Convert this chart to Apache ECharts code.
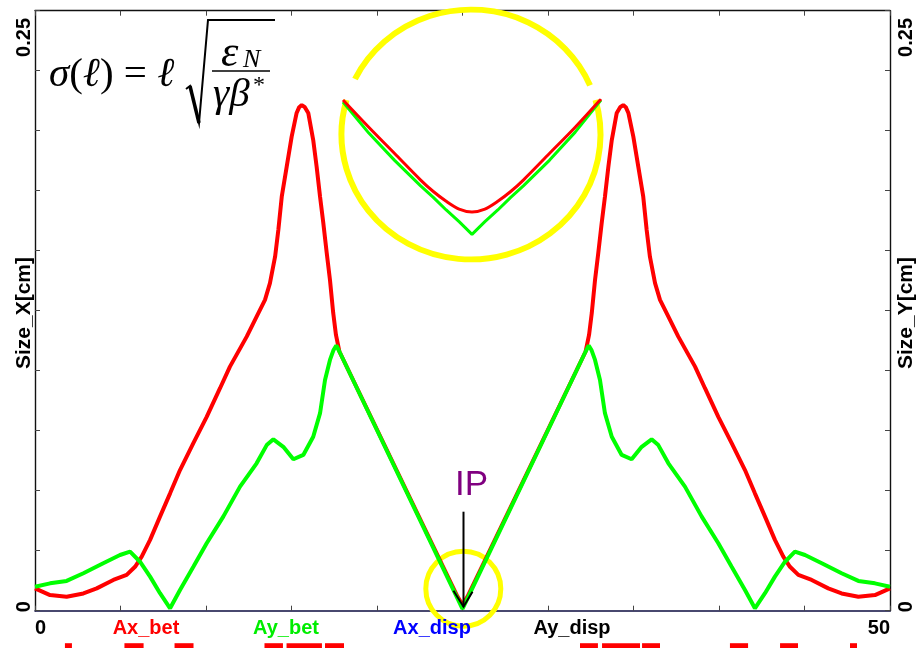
<!DOCTYPE html>
<html>
<head>
<meta charset="utf-8">
<script src="https://cdn.jsdelivr.net/npm/echarts@6/dist/echarts.min.js"></script>
<style>
  html, body { margin: 0; padding: 0; background: #ffffff; }
  #chart { width: 924px; height: 648px; }
</style>
</head>
<body>
<div id="chart"></div>
<script>
// Beam size along the lattice (s, cm)
const sigmaXPos = [0, 0.88, 1.85, 2.83, 3.61, 4.58, 5.36, 5.85, 6.24, 6.73, 7.31, 7.90, 8.48, 9.26, 10.04, 10.82, 11.40, 12.38, 12.96, 13.45, 13.74, 14.04, 14.23, 14.43, 14.72, 15.01, 15.30, 15.45, 15.60, 15.78, 15.98, 16.27, 16.47, 16.67, 16.86, 17.06, 17.25, 17.44, 17.60, 17.80, 24.70, 25.00, 25.30, 32.20, 32.40, 32.56, 32.75, 32.94, 33.14, 33.33, 33.53, 33.73, 34.02, 34.22, 34.40, 34.55, 34.70, 34.99, 35.28, 35.57, 35.77, 35.96, 36.26, 36.55, 37.04, 37.62, 38.60, 39.18, 39.96, 40.74, 41.52, 42.10, 42.69, 43.27, 43.76, 44.15, 44.64, 45.42, 46.39, 47.17, 48.15, 49.12, 50];
const sigmaX = [0.0093, 0.0065, 0.0058, 0.0072, 0.0093, 0.0128, 0.0149, 0.0183, 0.0225, 0.0295, 0.0392, 0.0489, 0.0586, 0.0698, 0.0808, 0.0927, 0.1017, 0.1142, 0.1225, 0.1295, 0.1365, 0.1475, 0.1586, 0.1725, 0.1850, 0.1975, 0.2074, 0.2098, 0.2107, 0.2098, 0.2074, 0.1961, 0.1850, 0.1725, 0.1615, 0.1490, 0.1378, 0.1240, 0.1149, 0.1080, 0.0060, 0.0025, 0.0060, 0.1080, 0.1149, 0.1240, 0.1378, 0.1490, 0.1615, 0.1725, 0.1850, 0.1961, 0.2074, 0.2098, 0.2107, 0.2098, 0.2074, 0.1975, 0.1850, 0.1725, 0.1586, 0.1475, 0.1365, 0.1295, 0.1225, 0.1142, 0.1017, 0.0927, 0.0808, 0.0698, 0.0586, 0.0489, 0.0392, 0.0295, 0.0225, 0.0183, 0.0149, 0.0128, 0.0093, 0.0072, 0.0058, 0.0065, 0.0093];

const sigmaYPos = [0, 0.88, 1.85, 2.83, 3.99, 4.97, 5.56, 6.14, 6.73, 7.31, 7.90, 8.48, 9.26, 10.04, 11.01, 11.99, 12.96, 13.55, 13.94, 14.52, 15.11, 15.69, 16.27, 16.67, 16.96, 17.25, 17.45, 17.62, 17.80, 25.00, 32.20, 32.38, 32.55, 32.75, 33.04, 33.33, 33.73, 34.31, 34.89, 35.48, 36.06, 36.45, 37.04, 38.01, 38.99, 39.96, 40.74, 41.52, 42.10, 42.69, 43.27, 43.86, 44.44, 45.03, 46.01, 47.17, 48.15, 49.12, 50];
const sigmaY = [0.0100, 0.0114, 0.0124, 0.0156, 0.0198, 0.0232, 0.0246, 0.0204, 0.0142, 0.0073, 0.0010, 0.0086, 0.0183, 0.0281, 0.0392, 0.0517, 0.0614, 0.0690, 0.0714, 0.0683, 0.0631, 0.0649, 0.0725, 0.0823, 0.0961, 0.1045, 0.1085, 0.1105, 0.1080, 0.0008, 0.1080, 0.1105, 0.1085, 0.1045, 0.0961, 0.0823, 0.0725, 0.0649, 0.0631, 0.0683, 0.0714, 0.0690, 0.0614, 0.0517, 0.0392, 0.0281, 0.0183, 0.0086, 0.0010, 0.0073, 0.0142, 0.0204, 0.0246, 0.0232, 0.0198, 0.0156, 0.0124, 0.0114, 0.0100];

// Magnified view around the interaction point
const ipPos = [24.0, 24.2, 24.4, 24.6, 24.7, 24.8, 24.9, 25.0, 25.1, 25.2, 25.3, 25.4, 25.6, 25.8, 26.0];
const ipSigmaX = [0.0150, 0.0122, 0.0095, 0.0068, 0.0056, 0.0046, 0.0038, 0.0035, 0.0038, 0.0046, 0.0056, 0.0068, 0.0095, 0.0122, 0.0151];
const ipSigmaY = [0.0148, 0.0116, 0.0088, 0.0062, 0.0050, 0.0037, 0.0025, 0.0012, 0.0025, 0.0037, 0.0050, 0.0062, 0.0088, 0.0117, 0.0150];

// Lattice elements (start / end along s)
const elemStart = [1.75, 5.23, 8.16, 13.42, 14.71, 16.96, 31.87, 33.16, 35.50, 40.64, 43.57, 47.66];
const elemEnd   = [2.16, 6.35, 9.27, 14.50, 16.78, 18.07, 32.92, 35.38, 36.55, 41.70, 44.62, 48.07];

// Axis ranges and end labels
const sRange = [0, 50];
const sizeRange = [0, 0.25];
const xEndLabels = ['0', '50'];
const yEndLabels = ['0', '0.25'];
const curveNames = ['Ax_bet', 'Ay_bet', 'Ax_disp', 'Ay_disp'];
const curveColors = ['#ff0000', '#00ee00', '#0000ff', '#000000'];

const pairs = (xs, ys) => xs.map((x, i) => [x, ys[i]]);

const chart = echarts.init(document.getElementById('chart'), null, { renderer: 'canvas' });

const frameTick = { inside: true, length: 5, lineStyle: { color: '#444', width: 1 } };

chart.setOption({
  animation: false,
  backgroundColor: '#ffffff',
  grid: [
    { left: 35, right: 34, top: 10.7, bottom: 37.3 },
    { left: 343, top: 100, width: 258, height: 146 }
  ],
  xAxis: [
    { gridIndex: 0, type: 'value', min: sRange[0], max: sRange[1], interval: 5, position: 'bottom',
      axisLine: { onZero: false, lineStyle: { color: '#0c0c40', width: 1.6 } },
      axisTick: frameTick, axisLabel: { show: false }, splitLine: { show: false } },
    { gridIndex: 0, type: 'value', min: sRange[0], max: sRange[1], interval: 5, position: 'top',
      axisLine: { onZero: false, lineStyle: { color: '#111', width: 1.4 } },
      axisTick: frameTick, axisLabel: { show: false }, splitLine: { show: false } },
    { gridIndex: 1, type: 'value', min: 24, max: 26, show: false }
  ],
  yAxis: [
    { gridIndex: 0, type: 'value', min: sizeRange[0], max: sizeRange[1], interval: 0.025, position: 'left',
      axisLine: { show: true, onZero: false, lineStyle: { color: '#111', width: 1.4 } },
      axisTick: frameTick, axisLabel: { show: false }, splitLine: { show: false } },
    { gridIndex: 0, type: 'value', min: sizeRange[0], max: sizeRange[1], interval: 0.025, position: 'right',
      axisLine: { show: true, onZero: false, lineStyle: { color: '#111', width: 1.4 } },
      axisTick: frameTick, axisLabel: { show: false }, splitLine: { show: false } },
    { gridIndex: 1, type: 'value', min: 0, max: 0.015, show: false }
  ],
  series: [
    { name: 'Ax_bet', type: 'line', xAxisIndex: 0, yAxisIndex: 0, data: pairs(sigmaXPos, sigmaX),
      showSymbol: false, z: 3, lineStyle: { color: curveColors[0], width: 4 } },
    { name: 'Ay_bet', type: 'line', xAxisIndex: 0, yAxisIndex: 0, data: pairs(sigmaYPos, sigmaY),
      showSymbol: false, z: 4, lineStyle: { color: '#00ff00', width: 4 } },
    { name: 'Ax_bet IP', type: 'line', xAxisIndex: 2, yAxisIndex: 2, data: pairs(ipPos, ipSigmaX),
      showSymbol: false, smooth: 0.3, z: 4, lineStyle: { color: '#ff0000', width: 3 } },
    { name: 'Ay_bet IP', type: 'line', xAxisIndex: 2, yAxisIndex: 2, data: pairs(ipPos, ipSigmaY),
      showSymbol: false, z: 3, lineStyle: { color: '#00ff00', width: 3 } },
    { name: 'elements', type: 'custom', xAxisIndex: 0, yAxisIndex: 0, clip: false, z: 2,
      data: elemStart.map((s, i) => [s, elemEnd[i]]),
      renderItem: (params, api) => {
        const a = api.coord([api.value(0), 0]);
        const b = api.coord([api.value(1), 0]);
        return { type: 'rect', shape: { x: a[0], y: a[1] + 32.5, width: b[0] - a[0], height: 8 },
                 style: { fill: '#ff0000' } };
      } }
  ]
});

// Annotations positioned from the axis scales
const px = (s, v) => chart.convertToPixel({ gridIndex: 0 }, [s, v]);
const p0 = px(sRange[0], sizeRange[0]);
const p1 = px(sRange[1], sizeRange[1]);
const ip = px(25, 0);
const bold = { fontFamily: 'Liberation Sans, Arial, sans-serif', fontWeight: 'bold', fontSize: 20, fill: '#000' };
const serif = 'Liberation Serif, Times New Roman, serif';
const up = Math.PI / 2;

const g = [];
// end labels of the s axis
g.push({ type: 'text', z: 20, x: p0[0], y: p0[1] + 18, style: Object.assign({ text: xEndLabels[0], align: 'left', verticalAlign: 'middle' }, bold) });
g.push({ type: 'text', z: 20, x: p1[0], y: p0[1] + 18, style: Object.assign({ text: xEndLabels[1], align: 'right', verticalAlign: 'middle' }, bold) });
// curve names under the axis
const nameX = [146, 286, 432, 572];
curveNames.forEach((n, i) => {
  g.push({ type: 'text', z: 20, x: nameX[i], y: p0[1] + 18, style: Object.assign({}, bold, { text: n, align: 'center', verticalAlign: 'middle', fill: curveColors[i] }) });
});
// rotated size labels, left and right
[[24, 'Size_X[cm]'], [906, 'Size_Y[cm]']].forEach(([x, t]) => {
  g.push({ type: 'text', x: x, y: 313, rotation: up, style: Object.assign({ text: t, align: 'center', verticalAlign: 'middle' }, bold, { fontSize: 21 }) });
  g.push({ type: 'text', x: x, y: p0[1] + 1.5, rotation: up, style: Object.assign({ text: yEndLabels[0], align: 'left', verticalAlign: 'middle' }, bold) });
  g.push({ type: 'text', x: x, y: 18, rotation: up, style: Object.assign({ text: yEndLabels[1], align: 'right', verticalAlign: 'middle' }, bold) });
});

// yellow rings
const ringStyle = { stroke: '#ffff00', lineWidth: 6, fill: null };
g.push({ type: 'arc', x: 471, y: 134.5, scaleY: 0.965, z: 1,
  shape: { cx: 0, cy: 0, r: 129.5, startAngle: -153.6 * Math.PI / 180, endAngle: -23.2 * Math.PI / 180, clockwise: true },
  style: ringStyle });
g.push({ type: 'arc', x: 471, y: 134.5, scaleY: 0.965, z: 1,
  shape: { cx: 0, cy: 0, r: 129.5, startAngle: -16 * Math.PI / 180, endAngle: 196 * Math.PI / 180, clockwise: true },
  style: ringStyle });
g.push({ type: 'circle', x: ip[0] + 0.8, y: ip[1] - 22, z: 1,
  shape: { cx: 0, cy: 0, r: 37.5 }, style: { stroke: '#ffff00', lineWidth: 5, fill: null } });

// IP arrow and label
g.push({ type: 'polyline', z: 10, shape: { points: [[ip[0] + 1, ip[1] - 99], [ip[0] + 1, ip[1] - 4]] }, style: { stroke: '#000', lineWidth: 2 } });
g.push({ type: 'polyline', z: 10, shape: { points: [[ip[0] - 9, ip[1] - 20], [ip[0] + 1, ip[1] - 4], [ip[0] + 10, ip[1] - 19]] }, style: { stroke: '#000', lineWidth: 2, fill: null } });
g.push({ type: 'text', z: 10, x: ip[0] + 9, y: 485, style: { text: 'IP', align: 'center', verticalAlign: 'middle', fontFamily: 'Liberation Sans, Arial, sans-serif', fontSize: 35, fill: '#800080' } });

// formula sigma(l) = l sqrt(eps_N / (gamma beta*))
g.push({ type: 'text', x: 49, y: 75, z: 10, style: {
  text: '{i|σ}{u|(}{i|ℓ}{u|) = }{i|ℓ}', verticalAlign: 'middle', align: 'left',
  rich: { i: { fontFamily: serif, fontStyle: 'italic', fontSize: 41, fill: '#000' },
          u: { fontFamily: serif, fontSize: 41, fill: '#000' } } } });
g.push({ type: 'polyline', z: 10, shape: { points: [[186, 89], [190, 86], [199, 123], [208, 20], [275, 20]] }, style: { stroke: '#000', lineWidth: 2, fill: null } });
g.push({ type: 'polyline', z: 10, shape: { points: [[190, 86], [199, 123]] }, style: { stroke: '#000', lineWidth: 3.5 } });
g.push({ type: 'polyline', z: 10, shape: { points: [[212, 71], [270, 71]] }, style: { stroke: '#000', lineWidth: 1.5 } });
g.push({ type: 'text', x: 221, y: 54, z: 10, style: { text: 'ε', verticalAlign: 'middle', fontFamily: serif, fontStyle: 'italic', fontSize: 44, fill: '#000' } });
g.push({ type: 'text', x: 243, y: 60, z: 10, style: { text: 'N', verticalAlign: 'middle', fontFamily: serif, fontStyle: 'italic', fontSize: 26, fill: '#000' } });
g.push({ type: 'text', x: 213, y: 95, z: 10, style: { text: 'γβ', verticalAlign: 'middle', fontFamily: serif, fontStyle: 'italic', fontSize: 41, fill: '#000' } });
g.push({ type: 'text', x: 253, y: 86, z: 10, style: { text: '*', verticalAlign: 'middle', fontFamily: serif, fontSize: 24, fill: '#000' } });

chart.setOption({ graphic: { elements: g } });
</script>
</body>
</html>
